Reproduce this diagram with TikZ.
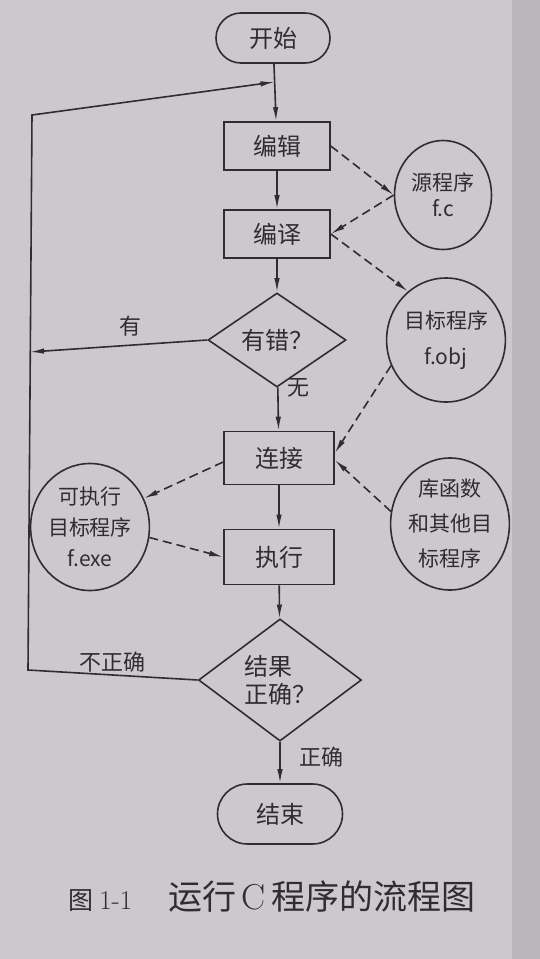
\documentclass[tikz,border=0pt]{standalone}
\usepackage{fontspec}
\newfontfamily\cjk{Noto Sans CJK SC}
\usetikzlibrary{shapes.geometric,arrows.meta}
\definecolor{paper}{RGB}{204,200,203}
\definecolor{paperedge}{RGB}{186,182,186}
\definecolor{ink}{RGB}{48,45,50}
\begin{document}
\begin{tikzpicture}[x=1pt,y=-1pt,
  every node/.style={text=ink},
  line/.style={draw=ink, line width=1.6pt},
  arr/.style={line, -{Latex[length=14pt,width=5.5pt]}},
  darr/.style={arr, dash pattern=on 9pt off 5pt},
  boxfont/.style={font={\cjk\fontsize{24}{28}\selectfont}},
  proc/.style={boxfont, draw=ink, line width=1.6pt, inner sep=0pt},
  term/.style={proc, rounded corners=25pt},
  decide/.style={proc, shape=diamond, align=left},
  file/.style={font={\cjk\fontsize{21}{31}\selectfont}, shape=ellipse, draw=ink, line width=1.6pt, inner sep=0pt, align=center},
  lbl/.style={font={\cjk\fontsize{22}{24}\selectfont}}
]
\fill[paper] (0,0) rectangle (540,959);
\fill[paperedge] (512,0) rectangle (540,959);
\useasboundingbox (0,0) rectangle (540,959);

% main flow
\node[term, minimum width=114pt, minimum height=50pt] (start) at (273,38) {开始};
\node[proc, minimum width=106pt, minimum height=48pt] (edit) at (277,146) {编辑};
\node[proc, minimum width=106pt, minimum height=48pt] (comp) at (277,234) {编译};
\node[decide, minimum width=138pt, minimum height=72pt] (err) at (277,340) {有错？};
\node[proc, minimum width=110pt, minimum height=53pt] (link) at (279,458) {连接};
\node[proc, minimum width=110pt, minimum height=55pt] (exec) at (279,557) {执行};
\node[decide, minimum width=163pt, minimum height=108pt] (res) at (280,680) {结果\\正确？};
\node[term, minimum width=125pt, minimum height=60pt, rounded corners=30pt] (end) at (280,814) {结束};

% files
\node[file, minimum width=97pt, minimum height=109pt, font={\cjk\fontsize{21}{26}\selectfont}] (src) at (443,195) {源程序\\f.c};
\node[file, minimum width=108pt, minimum height=124pt, font={\cjk\fontsize{21}{36}\selectfont}] (obj) at (446,340) {目标程序\\f.obj};
\node[file, minimum width=111pt, minimum height=127pt] (exe) at (90,527) {可执行\\目标程序\\f.exe};
\node[file, minimum width=106pt, minimum height=132pt, font={\cjk\fontsize{21}{35}\selectfont}] (lib) at (450,524) {库函数\\和其他目\\标程序};

% loop coordinates
\coordinate (c1) at (30,352);
\coordinate (c2) at (28,670);
\coordinate (c3) at (32,115);
\coordinate (J) at (274.5,82);

% solid arrows
\draw[arr] (start) -- (edit);
\draw[arr] (edit) -- (comp);
\draw[arr] (comp) -- (err);
\draw[arr] (err) -- (link);
\draw[arr] (link) -- (exec);
\draw[arr] (exec) -- (res);
\draw[arr] (res) -- (end);
\draw[arr] (err.west) -- (c1);
\draw[arr] (res.west) -- (c2) -- (c3) -- (J);

% dashed arrows
\draw[darr] (edit.east) -- (src.west);
\draw[darr] (src.west) -- (comp.east);
\draw[darr] (comp.east) -- (obj.128);
\draw[darr] (obj.205) -- ([yshift=5pt]link.east);
\draw[darr] (lib.168) -- ([yshift=-2pt]link.east);
\draw[darr] ([yshift=-4pt]link.west) -- (exe.28);
\draw[darr] (exe.-10) -- (exec.west);

% labels
\node[lbl] (you) at (130,326) {有};
\node[lbl] (wu) at (298,388) {无};
\node[lbl] (bzq) at (112,662) {不正确};
\node[lbl] (zq) at (321,757) {正确};

% caption
\node (cap) at (272,897) {{\cjk\fontsize{25}{28}\selectfont 图}\hspace{6pt}{\fontsize{27}{28}\selectfont 1-1}\hspace{36pt}{\cjk\fontsize{34}{36}\selectfont 运行\,}{\fontsize{36}{36}\selectfont C}{\cjk\fontsize{34}{36}\selectfont\,程序的流程图}};
\end{tikzpicture}
\end{document}
